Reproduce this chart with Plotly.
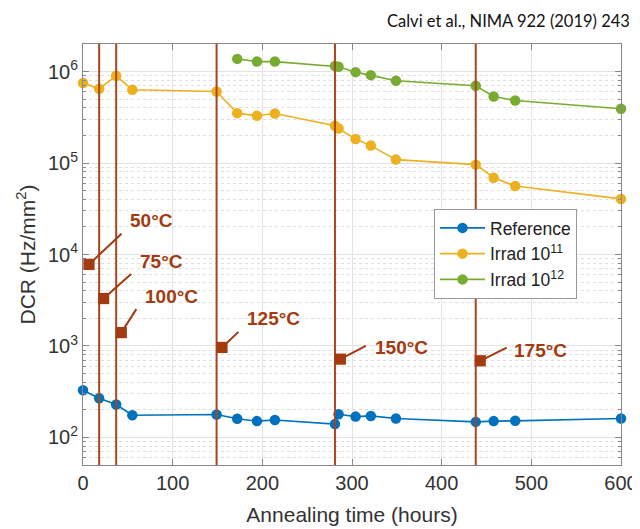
import math
import plotly.graph_objects as go

# ---------------- data ----------------
hours_ref = [0, 18, 37, 55, 149, 172, 194, 214, 281, 285, 304, 321, 349, 438, 458, 482, 600]
dcr_ref = [328, 268, 229, 175, 178, 160, 151, 155, 140, 179, 169, 172, 161, 148, 151, 152, 161]

hours_11 = [0, 18, 37, 55, 149, 172, 194, 214, 281, 285, 304, 321, 349, 438, 458, 482, 600]
dcr_11 = [748e3, 648e3, 898e3, 631e3, 605e3, 351e3, 329e3, 348e3, 256e3, 238e3,
          183e3, 155e3, 109e3, 96e3, 69e3, 56e3, 40.5e3]

hours_12 = [172, 194, 214, 281, 285, 304, 321, 349, 438, 458, 482, 600]
dcr_12 = [1.375e6, 1.285e6, 1.285e6, 1.15e6, 1.13e6, 985e3, 913e3, 792e3,
          698e3, 533e3, 483e3, 392e3]

step_hours = [18, 37, 149, 281, 438]

temps = ["50°C", "75°C", "100°C", "125°C", "150°C", "175°C"]
arrow_x = [6.7, 23, 42.7, 155, 287, 443]
arrow_y = [7800, 3300, 1400, 964, 718, 689]
label_x = [76, 88, 99, 213, 355, 510]
label_y = [23500, 8470, 3515, 2020, 963, 885]

x_ticks = [0, 100, 200, 300, 400, 500, 600]
y_exps = [2, 3, 4, 5, 6]

# ---------------- styles ----------------
C_REF = "#0072BD"
C_11 = "#EDB120"
C_12 = "#77AC30"
C_STEP = "#A8461F"
C_TXT = "#A33A10"
FONT = "Liberation Sans, Arial, sans-serif"

OFF = 8  # page body margin
PL, PR, PT, PB = 83, 621, 44, 465  # plot area in page pixels
W, H = 640 - OFF, 529 - OFF
ML, MT = PL - OFF, PT - OFF
MR, MB = W + OFF - PR, H + OFF - PB
PW, PH = PR - PL, PB - PT


def px(xp):
    return (xp - PL) / PW


def py(yp):
    return (PB - yp) / PH


fig = go.Figure()

for name, xs, ys, col in [
    ("Reference", hours_ref, dcr_ref, C_REF),
    ("Irrad 10<sup>11</sup>", hours_11, dcr_11, C_11),
    ("Irrad 10<sup>12</sup>", hours_12, dcr_12, C_12),
]:
    fig.add_trace(go.Scatter(
        x=xs, y=ys, name=name, mode="lines+markers",
        line=dict(color=col, width=1.6),
        marker=dict(color=col, size=10.5),
        cliponaxis=False,
    ))

for h in step_hours:
    fig.add_vline(x=h, line=dict(color=C_STEP, width=2), layer="above")

tail_ax = [34, 29, 16, 18, 27, 28]
tail_ay = [-32, -26, -25, -17, -14, -14]

annotations = []
for t, hx, hy, lx, ly, ax, ay in zip(temps, arrow_x, arrow_y, label_x, label_y, tail_ax, tail_ay):
    annotations.append(dict(
        x=hx, y=math.log10(hy), xref="x", yref="y", text="",
        showarrow=True, arrowhead=7, arrowsize=1.4, arrowwidth=2,
        arrowcolor=C_TXT, ax=ax, ay=ay, standoff=0, startstandoff=0,
    ))
    annotations.append(dict(
        x=lx, y=math.log10(ly), xref="x", yref="y", text="<b>%s</b>" % t,
        showarrow=False, font=dict(family=FONT, size=19, color=C_TXT),
        xanchor="center", yanchor="middle",
    ))

annotations.append(dict(
    x=px(632), y=py(21), xref="paper", yref="paper",
    xanchor="right", yanchor="middle",
    text="Calvi et al., NIMA 922 (2019) 243",
    showarrow=False, font=dict(family="Lato, Open Sans, sans-serif", size=16.5, color="#111"),
))

fig.update_layout(
    width=W, height=H,
    margin=dict(l=ML, r=MR, t=MT, b=MB, autoexpand=False),
    paper_bgcolor="white", plot_bgcolor="white",
    font=dict(family=FONT, color="#333"),
    showlegend=True,
    legend=dict(
        x=px(434), y=py(209), xanchor="left", yanchor="top",
        bgcolor="white", bordercolor="#999", borderwidth=1,
        font=dict(family=FONT, size=17.5, color="#222"),
        tracegroupgap=0, itemwidth=45,
    ),
    annotations=annotations,
)

fig.update_xaxes(
    range=[0, 600], tickvals=x_ticks, automargin=False,
    ticks="inside", ticklen=6, tickcolor="#888",
    showline=True, linecolor="#888", linewidth=1, mirror="ticks",
    showgrid=True, gridcolor="#e3e3e3", gridwidth=1,
    zeroline=False,
    tickfont=dict(family=FONT, size=20, color="#333"),
    title=dict(text="Annealing time (hours)", font=dict(family=FONT, size=21, color="#333"), standoff=14),
)

minor_vals = [m * 10 ** e for e in range(1, 7) for m in range(2, 10)]
fig.update_yaxes(
    type="log", range=[math.log10(50), math.log10(2e6)], automargin=False,
    tickvals=[10 ** e for e in y_exps],
    ticktext=["10<sup>%d</sup>" % e for e in y_exps],
    ticks="inside", ticklen=6, tickcolor="#888",
    showline=True, linecolor="#888", linewidth=1, mirror="ticks",
    showgrid=True, gridcolor="#e3e3e3", gridwidth=1,
    zeroline=False,
    minor=dict(tickmode="array", tickvals=minor_vals, ticks="inside", ticklen=3,
               tickcolor="#888", showgrid=True, gridcolor="#dedede", griddash="dot"),
    tickfont=dict(family=FONT, size=20, color="#333"),
    title=dict(text="DCR (Hz/mm<sup>2</sup>)", font=dict(family=FONT, size=21, color="#333"), standoff=6),
)

fig.write_html("out.html")
